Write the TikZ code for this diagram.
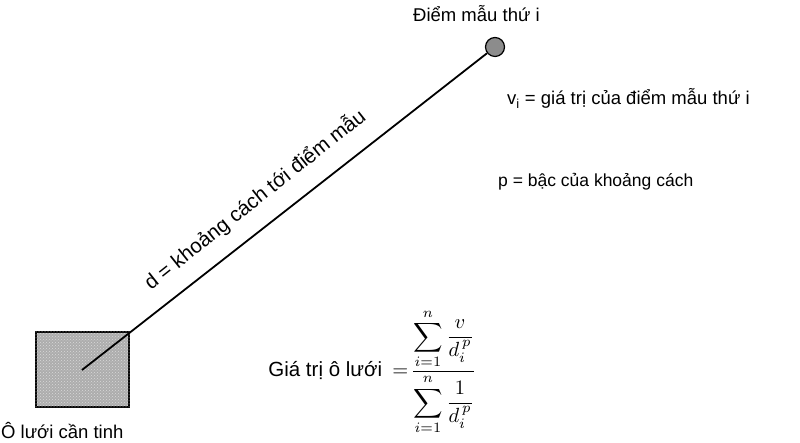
\documentclass[tikz,border=0pt]{standalone}
\usepackage{amsmath}
\usepackage[no-math]{fontspec}
\setmainfont{Liberation Sans}
\usetikzlibrary{calc,patterns}
\tikzset{
  lbl/.style={inner sep=0pt, font=\fontsize{18.5}{22}\selectfont, text=black},
  dlbl/.style={inner sep=0pt, font=\fontsize{20.5}{24}\selectfont, text=black},
  mathlbl/.style={inner sep=0pt, font=\normalsize, scale=2.05, text=black},
  cellbox/.style={draw=black, line width=1.6pt, fill=black!32},
  samplept/.style={circle, draw=black, line width=1.2pt, fill=black!45, minimum size=19pt, inner sep=0pt},
  distline/.style={draw=black, line width=1.8pt}
}
\begin{document}
\begin{tikzpicture}[x=1pt,y=1pt]
\useasboundingbox (0,0) rectangle (800,443);
% grid cell
\node[cellbox, minimum width=93pt, minimum height=75pt, anchor=south west] (cell) at (35,35) {};
\path[pattern=crosshatch dots, pattern color=white!85!black] (cell.south west) rectangle (cell.north east);
\coordinate (S) at (82,73);
% sample point
\node[samplept] (sample) at (495,396) {};
\draw[distline] (S) -- (sample);
% distance label
\coordinate (M) at ($(S)!0.46!(sample.center)$);
\node[dlbl, rotate=38.5, anchor=base] (dlabel) at ($(M)!21pt!90:(sample.center)$) {d = khoảng cách tới điểm mẫu};
% texts
\node[lbl, anchor=base west] (title) at (413,421) {Điểm mẫu thứ i};
\node[lbl, anchor=base west] (vi) at (507,338) {v\textsubscript{i} = giá trị của điểm mẫu thứ i};
\node[lbl, anchor=base west, font=\fontsize{17.5}{21}\selectfont] (pp) at (498,256) {p = bậc của khoảng cách};
\node[lbl, anchor=base west] (celllbl) at (1,4) {Ô lưới cần tinh};
\node[mathlbl, anchor=base west] (formula) at (268,66) {Giá trị ô lưới\enspace$=\!\dfrac{\displaystyle\sum_{i=1}^{n}\frac{v}{d_i^{\,p}}}{\displaystyle\sum_{i=1}^{n}\frac{1}{d_i^{\,p}}}$};
\end{tikzpicture}
\end{document}
